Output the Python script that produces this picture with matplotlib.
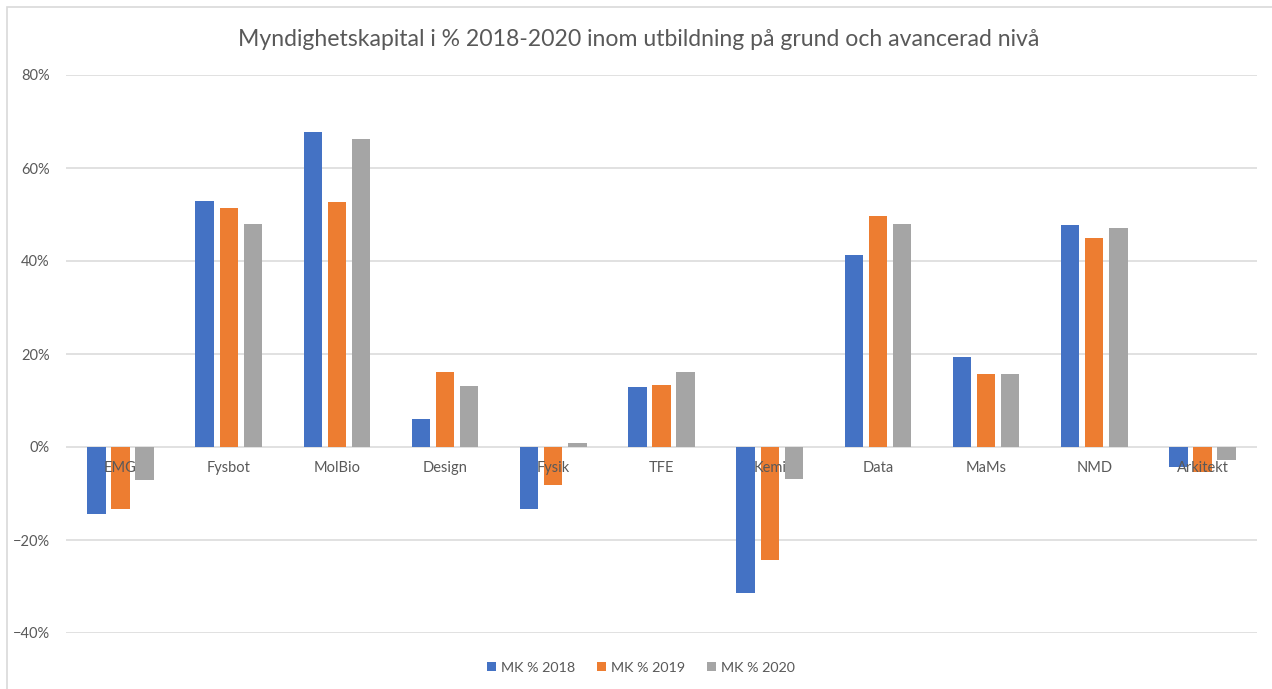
import numpy as np
import matplotlib
matplotlib.use("Agg")
import matplotlib.pyplot as plt
from matplotlib.patches import Rectangle
from matplotlib.ticker import PercentFormatter

# data
categories = ['EMG', 'Fysbot', 'MolBio', 'Design', 'Fysik', 'TFE', 'Kemi',
              'Data', 'MaMs', 'NMD', 'Arkitekt']
mk_2018 = [-14.5, 52.9, 67.7, 6.0, -13.4, 12.9, -31.4, 41.2, 19.4, 47.8, -4.3]
mk_2019 = [-13.4, 51.4, 52.7, 16.2, -8.1, 13.4, -24.2, 49.7, 15.8, 45.0, -5.3]
mk_2020 = [-7.1, 48.0, 66.2, 13.2, 0.8, 16.2, -6.8, 48.0, 15.8, 47.2, -2.7]
series_names = ['MK % 2018', 'MK % 2019', 'MK % 2020']
colors = ['#4472c4', '#ed7d31', '#a5a5a5']
yticks = [-40, -20, 0, 20, 40, 60, 80]

plt.rcParams['font.family'] = ['Lato', 'DejaVu Sans']
txt = '#595959'

fig = plt.figure(figsize=(12.72, 6.89), dpi=100)
ax = fig.add_axes([66.4 / 1272, 1 - 633 / 689, (1256.6 - 66.4) / 1272, (633 - 75) / 689])

x = np.arange(len(categories))
w = 0.17
step = 0.222
for i, (vals, name, c) in enumerate(zip([mk_2018, mk_2019, mk_2020], series_names, colors)):
    ax.bar(x + (i - 1) * step, vals, width=w, color=c, label=name, zorder=3)

ax.set_xlim(-0.5, len(categories) - 0.5)
ax.set_ylim(-40, 80)
ax.set_yticks(yticks)
ax.yaxis.set_major_formatter(PercentFormatter(decimals=0))
ax.grid(axis='y', color='#d9d9d9', linewidth=1.1, zorder=0)
for s in ax.spines.values():
    s.set_visible(False)
ax.tick_params(axis='y', length=0, pad=12, labelsize=10.5, labelcolor=txt)
ax.set_xticks([])

# category labels sit just under the zero line, like Excel
for xi, name in zip(x, categories):
    ax.annotate(name, (xi, 0), xytext=(0, -15), textcoords='offset points',
                ha='center', va='center', fontsize=10.5, color=txt, zorder=4)

fig.text(0.5025, 1 - 40 / 689, 'Myndighetskapital i % 2018-2020 inom utbildning på grund och avancerad nivå',
         ha='center', va='center', fontsize=16.6, color=txt)

fig.legend(loc='center', bbox_to_anchor=(0.504, 1 - 668 / 689), ncol=3, frameon=False,
           fontsize=10.3, labelcolor=txt, handlelength=0.6, handleheight=0.6,
           handletextpad=0.4, columnspacing=1.5)

# outer chart frame
fig.patches.append(Rectangle((7 / 1272, -0.01), 1.0, 1 - 7 / 689 + 0.01,
                             transform=fig.transFigure, fill=False,
                             edgecolor='#d9d9d9', linewidth=1.2))

fig.savefig('out.png', dpi=100)
